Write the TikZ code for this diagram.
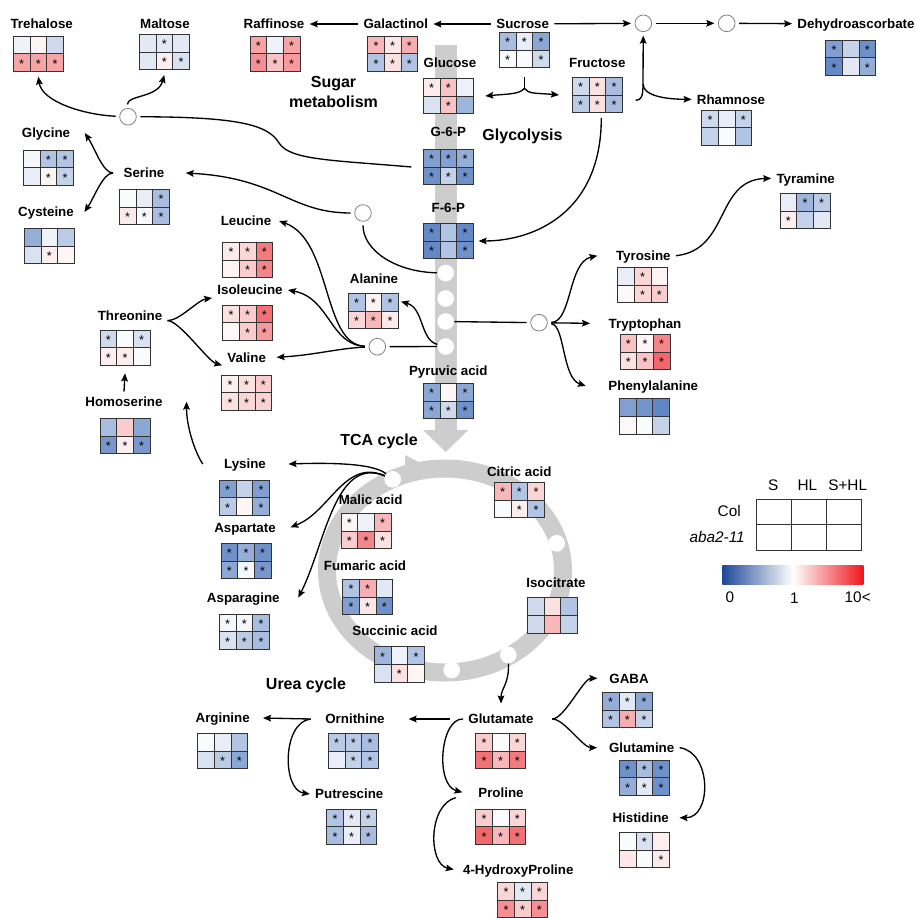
\documentclass[tikz,border=0pt]{standalone}
\usepackage{fontspec}
\setmainfont{Liberation Sans}
\usepackage{tikz}
\usetikzlibrary{arrows.meta}

\definecolor{hmblue}{RGB}{62,108,184}
\definecolor{hmred}{RGB}{236,52,58}
\definecolor{cbblue}{RGB}{30,72,152}
\definecolor{cbred}{RGB}{238,22,30}
\definecolor{pathgray}{RGB}{205,205,205}

% heat map: name, top-left corner, six value/star pairs (negative = blue)
\newcommand{\heat}[3]{%
  \node[hmbox] (#1) at (#2) {};
  \begin{scope}[shift={(#2)}]
    \foreach \v/\s [count=\i from 0] in {#3} {
      \pgfmathtruncatemacro{\cx}{mod(\i,3)}
      \pgfmathtruncatemacro{\cy}{floor(\i/3)}
      \pgfmathtruncatemacro{\p}{abs(\v)}
      \ifnum\v<0 \colorlet{cellc}{hmblue!\p!white}\else\colorlet{cellc}{hmred!\p!white}\fi
      \fill[cellc] (\cx*16.67,\cy*17.67) rectangle ++(16.67,17.67);
      \ifnum\s=1 \node[ast] at (\cx*16.67+8.33,\cy*17.67+10) {*};\fi
    }
    \draw[hmline] (0,0) rectangle (50,35.33)
      (16.67,0) -- (16.67,35.33) (33.33,0) -- (33.33,35.33)
      (0,17.67) -- (50,17.67);
  \end{scope}}

\begin{document}
\begin{tikzpicture}[x=0.75pt, y=-0.75pt,
    met/.style={font=\bfseries\fontsize{10}{12}\selectfont, inner sep=0pt, outer sep=4pt,
      text height=7.2pt, text depth=0pt},
    title/.style={font=\bfseries\fontsize{12}{14.8}\selectfont, inner sep=0pt},
    leg/.style={font=\fontsize{11.5}{13}\selectfont, inner sep=0pt, text height=8.2pt, text depth=0pt},
    hmbox/.style={anchor=north west, minimum width=37.5pt, minimum height=26.5pt, inner sep=0pt, outer sep=0pt},
    hmline/.style={black!80, line width=0.7pt},
    ast/.style={font=\fontsize{9.5}{9.5}\selectfont, inner sep=0pt},
    hub/.style={circle, draw=black!50, fill=white, line width=0.6pt, minimum size=12.5pt, inner sep=0pt, outer sep=3pt},
    wdot/.style={circle, fill=white, minimum size=12.5pt, inner sep=0pt},
    link/.style={line width=1pt},
    flow/.style={-{Stealth[length=6pt,width=5pt,inset=1pt]}, line width=1pt}]
  \useasboundingbox (0,0) rectangle (915,918);

  % Glycolysis bar and TCA ring
  \fill[pathgray] (434.7,45) rectangle (456.7,430);
  \fill[pathgray] (423,430) -- (468.3,430) -- (445.7,452) -- cycle;
  \draw[pathgray, line width=13.5pt] (445,570.5) ellipse [x radius=118, y radius=102];
  \fill[pathgray] (405,455) -- (430,468) -- (405,481) -- cycle;
  \node[wdot] (d1) at (445.7,273) {};
  \node[wdot] (d2) at (445.7,298.5) {};
  \node[wdot] (d3) at (445.7,321.5) {};
  \node[wdot] (d4) at (445.7,346.5) {};
  \node[wdot] (r1) at (392.7,479.3) {};
  \node[wdot] (r2) at (556.7,543.3) {};
  \node[wdot] (r3) at (508.3,655) {};
  \node[wdot] (r4) at (451.7,670) {};

  % Titles
  \node[title, align=center, anchor=north] (sugar) at (333.5,76) {Sugar\\metabolism};
  \node[title] (glycol) at (522.5,136.7) {Glycolysis};
  \node[title] (tca) at (379,441.7) {TCA cycle};
  \node[title] (urea) at (306,685.7) {Urea cycle};

  % Metabolites
  \node[met] (tre) at (41.7,24) {Trehalose};
  \heat{trehm}{13.3,36}{-8/0,6/0,-25/0,45/1,45/1,45/1}
  \node[met] (mal) at (165,24) {Maltose};
  \heat{malhm}{139.3,34.3}{-15/0,-15/1,-15/0,-15/0,8/1,-20/1}
  \node[met] (raf) at (274,24) {Raffinose};
  \heat{rafhm}{250,36}{45/1,-8/0,45/1,55/1,30/1,50/1}
  \node[met] (gal) at (395.8,24) {Galactinol};
  \heat{galhm}{367.7,36}{35/1,12/1,40/1,-40/1,15/1,-40/1}
  \node[met] (suc) at (522.7,24) {Sucrose};
  \heat{suchm}{499.3,32.3}{-45/1,-12/1,-60/1,-3/1,-3/0,-25/1}
  \node[met] (dha) at (856,24) {Dehydroascorbate};
  \heat{dhahm}{825.7,40}{-65/1,-30/0,-75/1,-80/1,-15/0,-55/1}
  \node[met] (glc) at (450,62.7) {Glucose};
  \heat{glchm}{423.3,78.3}{10/1,30/1,-10/0,-20/0,30/1,-50/0}
  \node[met] (fru) at (597.3,62.7) {Fructose};
  \heat{fruhm}{572.3,77.3}{-25/1,15/1,-45/1,-35/1,15/1,-45/1}
  \node[met] (rha) at (731,99.3) {Rhamnose};
  \heat{rhahm}{701.7,110}{-25/1,-12/0,-30/1,-30/0,-3/0,-40/0}
  \node[met] (g6p) at (448.3,132) {G-6-P};
  \heat{g6phm}{423.3,149.3}{-65/1,-65/1,-55/1,-75/1,-30/1,-75/1}
  \node[met] (f6p) at (448.3,207.3) {F-6-P};
  \heat{f6phm}{423.3,223.3}{-80/1,-40/0,-80/1,-80/1,-40/0,-75/1}
  \node[met] (gly) at (46,133) {Glycine};
  \heat{glyhm}{23.3,150}{-5/0,-40/1,-40/1,-12/0,5/1,-30/1}
  \node[met] (ser) at (144,173) {Serine};
  \heat{serhm}{119.3,189.3}{-3/0,-12/0,-45/1,10/1,-3/1,-45/1}
  \node[met] (cys) at (46,212) {Cysteine};
  \heat{cyshm}{24.3,228.3}{-55/0,-8/0,-35/0,-20/0,8/1,5/0}
  \node[met] (tyra) at (805.7,178.3) {Tyramine};
  \heat{tyrahm}{780,193.3}{-12/0,-50/1,-35/1,8/1,-30/0,-15/0}
  \node[met] (leu) at (246,221) {Leucine};
  \heat{leuhm}{222.7,242.3}{10/1,20/1,65/1,6/0,25/1,60/1}
  \node[met] (ile) at (250,290) {Isoleucine};
  \heat{ilehm}{222.7,305}{15/1,25/1,70/1,4/0,25/1,50/1}
  \node[met] (thr) at (130,315.3) {Threonine};
  \heat{thrhm}{100,330}{-25/1,-3/0,-20/1,8/1,8/1,-3/0}
  \node[met] (val) at (246.7,357.3) {Valine};
  \heat{valhm}{221.7,375}{8/1,15/1,25/1,15/1,20/1,22/1}
  \node[met] (hse) at (124,401.7) {Homoserine};
  \heat{hsehm}{100,418.3}{-45/0,25/0,-60/0,-70/1,8/1,-70/1}
  \node[met] (ala) at (374,278.7) {Alanine};
  \heat{alahm}{348.3,293.3}{-40/1,6/1,-40/1,20/1,35/1,10/1}
  \node[met] (pyr) at (448.3,370.7) {Pyruvic acid};
  \heat{pyrhm}{423.3,383.3}{-60/1,4/0,-60/1,-60/1,-25/1,-75/1}
  \node[met] (tyr) at (643.3,255.7) {Tyrosine};
  \heat{tyrhm}{617.7,267.3}{-12/0,20/1,6/0,3/0,20/1,25/1}
  \node[met] (trp) at (645,323.3) {Tryptophan};
  \heat{trphm}{620,334.3}{30/1,5/1,60/1,15/1,30/1,75/1}
  \node[met] (phe) at (653.3,386) {Phenylalanine};
  \heat{phehm}{619.3,398.7}{-65/0,-72/0,-82/0,4/0,-3/0,-30/0}
  \node[met] (lys) at (245,464) {Lysine};
  \heat{lyshm}{219.3,480}{-65/1,-30/0,-65/1,-35/1,5/0,-55/1}
  \node[met] (asp) at (245,527.3) {Aspartate};
  \heat{asphm}{221,543.3}{-75/1,-55/1,-75/1,-60/1,-5/1,-70/1}
  \node[met] (asn) at (243.3,597.7) {Asparagine};
  \heat{asnhm}{219.3,614}{-5/1,-5/1,-45/1,-20/1,-35/1,-45/1}
  \node[met] (mala) at (370.7,500) {Malic acid};
  \heat{malahm}{341,513.3}{5/1,-8/0,35/1,25/1,60/1,15/1}
  \node[met] (fum) at (365,566) {Fumaric acid};
  \heat{fumhm}{342.7,579.3}{-40/1,40/1,-15/0,-65/1,12/1,-75/1}
  \node[met] (suca) at (395,630.7) {Succinic acid};
  \heat{sucahm}{374.3,646.7}{-50/1,-8/0,-40/1,-20/0,15/1,5/0}
  \node[met] (cit) at (519.3,471.7) {Citric acid};
  \heat{cithm}{494.3,482.3}{35/1,-40/1,20/1,-3/0,8/1,-40/1}
  \node[met] (icit) at (556,582.7) {Isocitrate};
  \heat{icithm}{527.3,597.7}{-25/0,15/0,-40/0,-25/0,35/0,-30/0}
  \node[met] (arg) at (222.7,718) {Arginine};
  \heat{arghm}{197.7,733.3}{-3/0,-12/0,-40/0,-20/0,-35/1,-60/1}
  \node[met] (orn) at (355,719) {Ornithine};
  \heat{ornhm}{328.3,733.3}{-35/1,-35/1,-45/1,-12/0,-30/1,-40/1}
  \node[met] (put) at (349.3,794) {Putrescine};
  \heat{puthm}{326.7,809}{-40/1,-15/1,-30/1,-45/1,-12/1,-45/1}
  \node[met] (glu) at (501,719) {Glutamate};
  \heat{gluhm}{475.7,733.3}{25/1,-3/0,20/1,70/1,35/1,65/1}
  \node[met] (pro) at (501,792.3) {Proline};
  \heat{prohm}{475.7,809}{25/1,-3/0,20/1,75/1,35/1,70/1}
  \node[met] (hyp) at (518.3,869.5) {4-HydroxyProline};
  \heat{hyphm}{497.7,882.5}{20/1,-15/1,20/1,55/1,25/1,55/1}
  \node[met] (gaba) at (629,678.3) {GABA};
  \heat{gabahm}{602.3,692.3}{-55/1,-15/1,-60/1,-40/1,40/1,-30/1}
  \node[met] (gln) at (641.7,747.7) {Glutamine};
  \heat{glnhm}{619.3,760}{-75/1,-45/1,-75/1,-55/1,-15/1,-75/1}
  \node[met] (his) at (640.7,817.7) {Histidine};
  \heat{hishm}{619.3,832.3}{-3/0,-20/1,8/0,12/0,-3/0,10/1}

  % Branch points
  \node[hub] (cA) at (643.3,23.3) {};
  \node[hub] (cB) at (726.7,23.3) {};
  \node[hub] (cT) at (128,116.7) {};
  \node[hub] (cS) at (363,213) {};
  \node[hub] (cP) at (377.3,346.7) {};
  \node[hub] (cY) at (539,322.7) {};

  % Sugar metabolism
  \draw[flow] (suc) -- (gal);
  \draw[flow] (gal) -- (raf);
  \draw[flow] (suc) -- (cA);
  \draw[flow] (cA) -- (cB);
  \draw[flow] (cB) -- (dha);
  \coordinate (fruup) at (643,84);
  \draw[flow] ([xshift=10pt,yshift=-4pt]fruhm.east) .. controls +(6,0) and +(0,12) .. (fruup) -- (cA);
  \draw[flow] (fruup) .. controls +(0,12) and +(-25,0) .. (rha.west);
  \coordinate (sucfork) at ([yshift=-15.5pt]suchm.south);
  \draw[link] ([yshift=-7pt]suchm.south) -- (sucfork);
  \draw[flow] (sucfork) .. controls +(-4,6) and +(22,-2) .. ([xshift=9pt]glchm.east);
  \draw[flow] (sucfork) .. controls +(4,6) and +(-22,-2) .. ([xshift=-10pt]fruhm.west);
  \draw[flow] ([xshift=3pt,yshift=-4pt]fruhm.south) .. controls +(0,95) and +(55,0) .. ([xshift=4pt]f6phm.east);
  \draw[link] ([xshift=-9pt]g6phm.west) .. controls (330,160) and (290,160) .. (279,143)
    .. controls (268,124) and (235,117) .. (cT);
  \draw[flow] (cT) .. controls (85,115) and (42,102) .. ([yshift=-4pt]trehm.south);
  \draw[flow] (cT) .. controls (127,95) and (158,98) .. ([yshift=-4pt]malhm.south);

  % Serine branch
  \draw[link] (d1) .. controls (395,272) and (363,250) .. (cS);
  \draw[flow] (cS) .. controls (290,213) and (278,178) .. ([xshift=12pt]ser.east);
  \coordinate (serfork) at ([xshift=-4pt]ser.west);
  \draw[flow] (serfork) .. controls +(-10,0) and +(10,15) .. ([xshift=7pt]gly.east);
  \draw[flow] (serfork) .. controls +(-10,0) and +(10,-15) .. ([xshift=4pt]cys.east);

  % Pyruvate branch
  \draw[link] (d4) -- (cP);
  \draw[flow] (d4) .. controls (420,340) and (424,308) .. ([xshift=2pt,yshift=7pt]alahm.east);
  \draw[flow] (cP) .. controls (322,345) and (332,240) .. ([xshift=2pt]leu.east);
  \draw[flow] (cP) .. controls (330,345) and (330,298) .. (ile.east);
  \draw[flow] (cP) .. controls (340,348) and (315,355) .. ([xshift=4pt]val.east);
  \coordinate (thrfork) at ([yshift=-4pt]thr.east);
  \draw[flow] (thrfork) .. controls +(12,0) and +(-14,2) .. ([yshift=-6pt]ile.west);
  \draw[flow] (thrfork) .. controls +(12,0) and +(-14,-4) .. ([yshift=-6pt]val.west);
  \draw[flow] (hse.north) -- ([yshift=-6pt]thrhm.south);
  \draw[flow] ([xshift=-12pt]lys.west) .. controls +(-8,-12) and +(0,25) .. ([xshift=14pt]hse.east);

  % Aromatic branch
  \draw[link] (d3) -- (cY);
  \draw[flow] (cY) .. controls (572,322) and (568,262) .. ([xshift=-10pt]tyr.west);
  \draw[flow] (cY) -- ([xshift=-10pt]trp.west);
  \draw[flow] (cY) .. controls (565,325) and (562,378) .. ([xshift=-13pt]phe.west);
  \draw[flow] (tyr.east) .. controls (730,250) and (715,180) .. (tyra.west);

  % Aspartate family
  \draw[flow] (r1) .. controls (372,462) and (320,463) .. ([xshift=13pt]lys.east);
  \draw[flow] (r1) .. controls (345,458) and (330,512) .. ([xshift=7pt]asp.east);
  \draw[flow] (r1) .. controls (335,455) and (325,545) .. ([xshift=10pt]asn.east);

  % Glutamate family
  \draw[flow] (r3) .. controls (509,685) and (501,688) .. ([yshift=4pt]glu.north);
  \draw[flow] ([xshift=-10pt]glu.west) -- ([xshift=14pt]orn.east);
  \draw[flow] (glu.west) .. controls (440,718) and (435,785) .. ([xshift=-8pt]pro.west);
  \draw[flow] ([xshift=-13pt,yshift=-4pt]pro.west) .. controls (428,805) and (428,864) .. ([xshift=-3pt]hyp.west);
  \draw[flow] ([xshift=-7pt]orn.west) -- ([xshift=6pt]arg.east);
  \draw[flow] ([xshift=-7pt]orn.west) .. controls (282,722) and (282,790) .. (put.west);
  \coordinate (glufork) at ([xshift=10pt]glu.east);
  \draw[flow] (glufork) .. controls +(12,0) and +(-14,0) .. ([xshift=-5pt]gaba.west);
  \draw[flow] (glufork) .. controls +(12,0) and +(-14,0) .. ([xshift=-5pt]gln.west);
  \draw[flow] (gln.east) .. controls (712,752) and (712,818) .. ([xshift=4pt]his.east);

  % Legend
  \node[leg] (lS) at (773.3,485) {S};
  \node[leg] (lHL) at (807.3,485) {HL};
  \node[leg] (lSHL) at (847.7,485) {S+HL};
  \node[leg, anchor=east] (lCol) at (741,511) {Col};
  \node[leg, anchor=east] (lmut) at (745,537) {\itshape aba2-11};
  \draw[hmline] (756,499.3) rectangle (861,550)
    (791,499.3) -- (791,550) (826,499.3) -- (826,550) (756,524.7) -- (861,524.7);
  \shade[left color=cbblue, right color=white] (722.3,565) rectangle (792.8,584.3);
  \shade[left color=white, right color=cbred] (792.8,565) rectangle (863.3,584.3);
  \node[leg] (lzero) at (730,597) {0};
  \node[leg] (lone) at (794.3,598.5) {1};
  \node[leg] (lten) at (857.7,597) {10<};
\end{tikzpicture}
\end{document}
